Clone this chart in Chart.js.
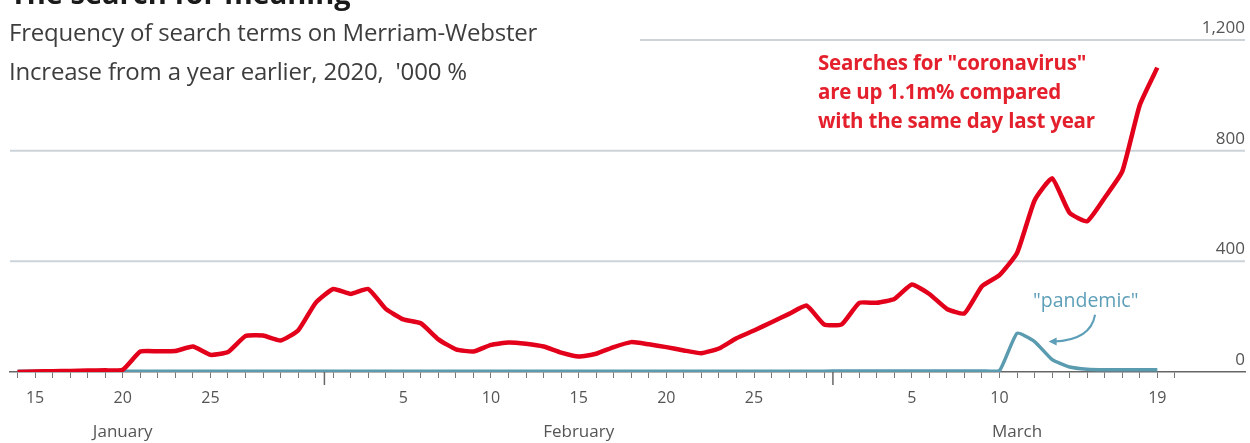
<!DOCTYPE html>
<html lang="en">
<head>
<meta charset="UTF-8">
<title>The search for meaning</title>
<script src="https://cdn.jsdelivr.net/npm/chart.js@4.4.1/dist/chart.umd.min.js"></script>
<style>
    body { margin: 0; background: #fff; }
    #wrap { position: relative; width: 1250px; height: 443px; overflow: hidden; font-family: 'Open Sans', sans-serif; }
    #wrap canvas { position: absolute; left: 0; top: 0; }
    .txt { position: absolute; white-space: nowrap; }
    #title { left: 10px; top: -22px; font-size: 29px; line-height: 29px; font-weight: bold; color: #1a1a1a; }
    #sub1 { left: 9px; top: 17px; font-size: 24px; line-height: 30px; color: #3d3d3d; letter-spacing: -0.2px; }
    #sub2 { left: 9px; top: 56px; font-size: 24px; line-height: 30px; color: #3d3d3d; letter-spacing: -0.2px; }
    #note { left: 818px; top: 48px; font-size: 20.5px; line-height: 29px; font-weight: bold; color: #e4202d; letter-spacing: -0.2px; }
    #pand { left: 1033px; top: 287px; font-size: 19.5px; line-height: 26px; color: #5d9fb8; }
</style>
</head>
<body>
<div id="wrap">
    <canvas id="chart" width="1250" height="443"></canvas>
    <div class="txt" id="title">The search for meaning</div>
    <div class="txt" id="sub1">Frequency of search terms on Merriam-Webster</div>
    <div class="txt" id="sub2">Increase from a year earlier, 2020,&nbsp; '000 %</div>
    <div class="txt" id="note">Searches for "coronavirus"<br>are up 1.1m% compared<br>with the same day last year</div>
    <div class="txt" id="pand">"pandemic"</div>
</div>
<script>
// days shown, Jan 14 to Mar 19 2020
const days = [
    'Jan 14', 'Jan 15', 'Jan 16', 'Jan 17', 'Jan 18', 'Jan 19', 'Jan 20', 'Jan 21', 'Jan 22', 'Jan 23',
    'Jan 24', 'Jan 25', 'Jan 26', 'Jan 27', 'Jan 28', 'Jan 29', 'Jan 30', 'Jan 31',
    'Feb 1', 'Feb 2', 'Feb 3', 'Feb 4', 'Feb 5', 'Feb 6', 'Feb 7', 'Feb 8', 'Feb 9', 'Feb 10',
    'Feb 11', 'Feb 12', 'Feb 13', 'Feb 14', 'Feb 15', 'Feb 16', 'Feb 17', 'Feb 18', 'Feb 19', 'Feb 20',
    'Feb 21', 'Feb 22', 'Feb 23', 'Feb 24', 'Feb 25', 'Feb 26', 'Feb 27', 'Feb 28', 'Feb 29',
    'Mar 1', 'Mar 2', 'Mar 3', 'Mar 4', 'Mar 5', 'Mar 6', 'Mar 7', 'Mar 8', 'Mar 9', 'Mar 10',
    'Mar 11', 'Mar 12', 'Mar 13', 'Mar 14', 'Mar 15', 'Mar 16', 'Mar 17', 'Mar 18', 'Mar 19'
];

// increase on a year earlier, '000 %
const coronavirus = [
    0, 2, 3, 4, 5, 6, 8, 74, 75, 76,
    92, 62, 72, 130, 132, 114, 150, 250,
    300, 282, 300, 228, 190, 176, 118, 82, 74, 98,
    107, 102, 92, 70, 56, 66, 90, 108, 100, 90,
    78, 68, 85, 122, 150, 180, 210, 240, 172,
    172, 250, 250, 264, 316, 282, 228, 212, 310, 350,
    430, 620, 700, 575, 545, 630, 725, 965, 1100
];
const pandemic = [
    3, 3, 3, 3, 3, 3, 3, 3, 3, 3,
    3, 3, 3, 3, 3, 3, 3, 3,
    3, 3, 3, 3, 3, 3, 3, 3, 3, 3,
    3, 3, 3, 3, 3, 3, 3, 3, 3, 3,
    3, 3, 3, 3, 3, 3, 3, 3, 3,
    4, 4, 4, 4, 4, 4, 4, 4, 4, 5,
    140, 110, 45, 18, 10, 8, 8, 8, 8
];

const yTicks = [0, 400, 800, 1200];
const labelledDays = ['Jan 15', 'Jan 20', 'Jan 25', 'Feb 5', 'Feb 10', 'Feb 15', 'Feb 20', 'Feb 25', 'Mar 5', 'Mar 10', 'Mar 19'];
const months = ['January', 'February', 'March'];
const monthLabelDays = ['Jan 20', 'Feb 15', 'Mar 11'];
const monthStarts = ['Feb 1', 'Mar 1'];

const tickFont = "'Liberation Sans Narrow', 'Open Sans', sans-serif";

// grid lines, long month ticks, month names, arrow to "pandemic"
const extras = {
    id: 'extras',
    beforeDatasetsDraw(chart) {
        const { ctx, chartArea, scales: { y } } = chart;
        ctx.save();
        yTicks.forEach(v => {
            if (v === 0) return;
            const py = y.getPixelForValue(v);
            ctx.strokeStyle = '#cdd4d9';
            ctx.lineWidth = 2;
            ctx.beginPath();
            ctx.moveTo(v === 1200 ? 640 : chartArea.left, py);
            ctx.lineTo(chartArea.right, py);
            ctx.stroke();
        });
        ctx.restore();
    },
    afterDraw(chart) {
        const { ctx, scales: { x, y } } = chart;
        const base = y.getPixelForValue(0);
        ctx.save();
        ctx.strokeStyle = '#666';
        ctx.lineWidth = 1.5;
        monthStarts.forEach(d => {
            const px = x.getPixelForValue(days.indexOf(d) - 0.5);
            ctx.beginPath();
            ctx.moveTo(px, base);
            ctx.lineTo(px, base + 13);
            ctx.stroke();
        });
        ctx.fillStyle = '#555';
        ctx.font = "17px " + tickFont;
        ctx.textAlign = 'center';
        ctx.textBaseline = 'middle';
        months.forEach((m, i) => {
            ctx.fillText(m, x.getPixelForValue(days.indexOf(monthLabelDays[i])), 432);
        });
        // curved arrow from the "pandemic" label to its line
        const sx = x.getPixelForValue(61.45), sy = y.getPixelForValue(207);
        const ex = x.getPixelForValue(58.8), ey = y.getPixelForValue(110);
        const cx = x.getPixelForValue(61.2), cy = y.getPixelForValue(115);
        ctx.strokeStyle = '#5d9fb8';
        ctx.fillStyle = '#5d9fb8';
        ctx.lineWidth = 2;
        ctx.beginPath();
        ctx.moveTo(sx, sy);
        ctx.quadraticCurveTo(cx, cy, ex + 5, ey);
        ctx.stroke();
        ctx.beginPath();
        ctx.moveTo(ex, ey);
        ctx.lineTo(ex + 8, ey - 4);
        ctx.lineTo(ex + 8, ey + 4);
        ctx.closePath();
        ctx.fill();
        ctx.restore();
    }
};

const ctx = document.getElementById('chart').getContext('2d');
const chart = new Chart(ctx, {
    type: 'line',
    data: {
        datasets: [{
            label: 'coronavirus',
            data: days.map((d, i) => ({ x: i, y: coronavirus[i] })),
            borderColor: '#e3001b',
            borderWidth: 4.5,
            pointRadius: 0,
            tension: 0.15,
            borderJoinStyle: 'round'
        }, {
            label: 'pandemic',
            data: days.map((d, i) => ({ x: i, y: pandemic[i] })),
            borderColor: '#5a9bb0',
            borderWidth: 3.5,
            pointRadius: 0,
            tension: 0.15,
            borderJoinStyle: 'round'
        }]
    },
    options: {
        responsive: false,
        animation: false,
        layout: { padding: { top: 40, left: 10, right: 5, bottom: 0 } },
        plugins: { legend: { display: false }, tooltip: { enabled: false } },
        scales: {
            x: {
                type: 'linear',
                min: -0.43,
                max: 70,
                afterBuildTicks(scale) {
                    scale.ticks = [];
                    for (let i = 0; i <= 66; i++) scale.ticks.push({ value: i });
                },
                afterFit(scale) { scale.height = 71; },
                grid: { drawOnChartArea: false, drawTicks: true, tickLength: 6, color: '#777', lineWidth: 1 },
                border: { display: true, color: '#666', width: 1.5 },
                ticks: {
                    autoSkip: false,
                    maxRotation: 0,
                    padding: 11,
                    color: '#555',
                    font: { family: tickFont, size: 16 },
                    callback(v) {
                        const d = days[v];
                        return labelledDays.includes(d) ? d.split(' ')[1] : '';
                    }
                }
            },
            y: {
                position: 'right',
                min: 0,
                max: 1200,
                afterBuildTicks(scale) { scale.ticks = yTicks.map(v => ({ value: v })); },
                afterFit(scale) { scale.width = 0; },
                grid: { display: false },
                border: { display: false },
                ticks: {
                    mirror: true,
                    padding: 0,
                    labelOffset: -12,
                    color: '#555',
                    font: { family: tickFont, size: 17 },
                    callback(v) { return v.toLocaleString('en-US'); }
                }
            }
        }
    },
    plugins: [extras]
});
</script>
</body>
</html>
